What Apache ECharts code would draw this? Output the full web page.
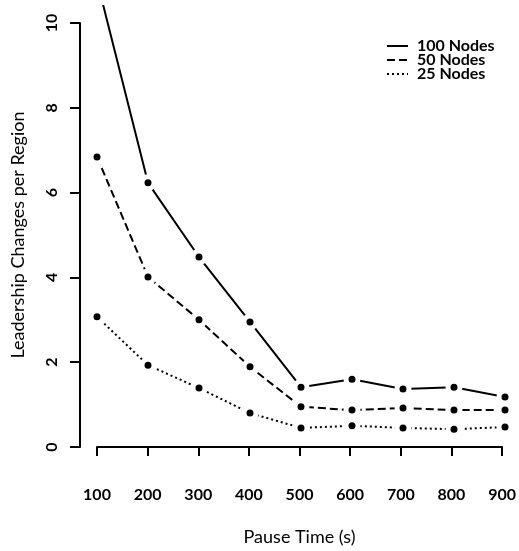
<!DOCTYPE html>
<html>
<head>
	<meta charset="utf-8">
	<title>Leadership changes</title>
	<script src="https://cdn.jsdelivr.net/npm/echarts@6/dist/echarts.min.js"></script>
	<style>
	html, body { margin: 0; height: 100%; background: #fff; }
	#main { width: 519px; height: 551px; }
	</style>
</head>
<body>
<div id="main"></div>
<script>
	var pauseTimes = [100, 200, 300, 400, 500, 600, 700, 800, 900];
	var nodes100 = [11.0, 6.23, 4.48, 2.95, 1.41, 1.60, 1.37, 1.41, 1.18];
	var nodes50 = [6.84, 4.01, 3.00, 1.89, 0.95, 0.87, 0.92, 0.87, 0.87];
	var nodes25 = [3.07, 1.93, 1.39, 0.80, 0.45, 0.50, 0.45, 0.42, 0.47];

	var FONT = 'Lato';
	var myChart = echarts.init(document.getElementById('main'));

	function pairs(vals) {
		return pauseTimes.map(function (t, i) { return [t, vals[i]]; });
	}

	function mkSeries(name, vals, dash) {
		return {
			name: name,
			type: 'line',
			xAxisIndex: 0,
			yAxisIndex: 0,
			data: pairs(vals),
			clip: true,
			symbol: 'circle',
			symbolSize: 12,
			showAllSymbol: true,
			// white ring so the line stops short of each point
			itemStyle: { color: '#000', borderColor: '#fff', borderWidth: 5 },
			lineStyle: { color: '#000', width: 2, type: dash },
			emphasis: { disabled: true },
			animation: false
		};
	}

	var option = {
		backgroundColor: '#fff',
		textStyle: { fontFamily: FONT, color: '#000' },
		legend: {
			orient: 'vertical',
			left: 386,
			top: 38,
			padding: 0,
			itemWidth: 21,
			itemHeight: 10,
			itemGap: -2,
			itemStyle: { opacity: 0 },
			textStyle: { fontFamily: FONT, fontSize: 16, lineHeight: 14, color: '#000', fontWeight: 'bold', padding: [0, 0, 0, 4] },
			data: ['100 Nodes', '50 Nodes', '25 Nodes']
		},
		grid: [
			// plot region used by the data (clips the top like the original)
			{ left: 97, right: 14, top: 6, bottom: 104 },
			// axes region, detached axes
			{ left: 97, right: 14, top: 23, bottom: 104 }
		],
		xAxis: [
			{ gridIndex: 0, type: 'value', min: 100, max: 900, show: false },
			{
				gridIndex: 1, type: 'value', min: 100, max: 900, interval: 100,
				offset: 16,
				name: 'Pause Time (s)', nameLocation: 'middle', nameGap: 65,
				nameTextStyle: { fontFamily: FONT, fontSize: 18, color: '#000' },
				axisLine: { show: true, lineStyle: { color: '#000', width: 2 } },
				axisTick: { show: true, length: 9, lineStyle: { color: '#000', width: 2 } },
				axisLabel: { margin: 24, fontFamily: FONT, fontSize: 16, fontWeight: 'bold', color: '#000' },
				splitLine: { show: false }
			}
		],
		yAxis: [
			{ gridIndex: 0, type: 'value', min: 0, max: 10.4, show: false },
			{
				gridIndex: 1, type: 'value', min: 0, max: 10, interval: 2,
				offset: 17,
				name: 'Leadership Changes per Region', nameLocation: 'middle', nameGap: 53,
				nameTextStyle: { fontFamily: FONT, fontSize: 18, color: '#000' },
				axisLine: { show: true, lineStyle: { color: '#000', width: 2 } },
				axisTick: { show: true, length: 10, lineStyle: { color: '#000', width: 2 } },
				axisLabel: { rotate: 90, margin: 20, fontFamily: FONT, fontSize: 16, fontWeight: 'bold', color: '#000' },
				splitLine: { show: false }
			}
		],
		series: [
			mkSeries('100 Nodes', nodes100, 'solid'),
			mkSeries('50 Nodes', nodes50, [8, 4]),
			mkSeries('25 Nodes', nodes25, [2, 3])
		]
	};
	myChart.setOption(option);
</script>
</body>
</html>
